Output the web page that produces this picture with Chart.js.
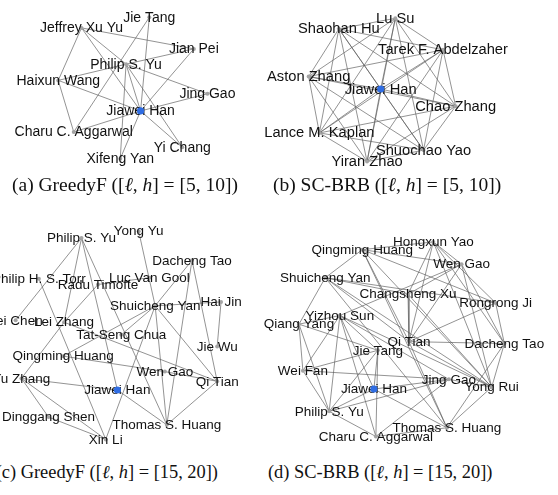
<!DOCTYPE html>
<html>
<head>
<meta charset="utf-8">
<script src="https://cdn.jsdelivr.net/npm/chart.js@4.4.1/dist/chart.umd.min.js"></script>
<style>
  html, body { margin: 0; padding: 0; background: #fff; }
  body { width: 558px; height: 495px; position: relative; overflow: hidden; }
  canvas { position: absolute; }
  .cap {
    position: absolute; white-space: nowrap; line-height: 20px;
    font-family: "Liberation Serif", "Times New Roman", serif; font-size: 19.5px; color: #111;
  }
  .cap.low { font-size: 18.4px; }
</style>
</head>
<body>
<canvas id="ga" width="255" height="178" style="left:0;top:0"></canvas>
<canvas id="gb" width="303" height="178" style="left:255px;top:0"></canvas>
<canvas id="gc" width="258" height="250" style="left:0;top:205px"></canvas>
<canvas id="gd" width="300" height="250" style="left:258px;top:205px"></canvas>

<div class="cap" style="left:12px;top:175px">(a) GreedyF ([<i>ℓ</i>, <i>h</i>] = [5, 10])</div>
<div class="cap" style="left:273px;top:175px">(b) SC-BRB ([<i>ℓ</i>, <i>h</i>] = [5, 10])</div>
<div class="cap low" style="right:340px;top:462px">(c) GreedyF ([<i>ℓ</i>, <i>h</i>] = [15, 20])</div>
<div class="cap low" style="left:268px;top:462px">(d) SC-BRB ([<i>ℓ</i>, <i>h</i>] = [15, 20])</div>

<script>
// ---- (a) GreedyF, [l,h] = [5,10] ----
const namesA = ["Jie Tang", "Jeffrey Xu Yu", "Jian Pei", "Philip S. Yu", "Haixun Wang",
  "Jing Gao", "Jiawei Han", "Charu C. Aggarwal", "Yi Chang", "Xifeng Yan"];
const xA = [150, 80, 196, 126, 56, 210, 141, 72, 184, 120];
const yA = [14, 25, 47, 63, 80, 94, 112, 134, 150, 162];
const edgesA = [[1, 2], [1, 4], [1, 3], [1, 6], [0, 7], [0, 6], [3, 2], [3, 4], [3, 5], [3, 6],
  [3, 8], [3, 9], [4, 7], [4, 6], [6, 5], [6, 7], [6, 8], [6, 2], [6, 9]];

// ---- (b) SC-BRB, [l,h] = [5,10] ----
const namesB = ["Lu Su", "Shaohan Hu", "Tarek F. Abdelzaher", "Aston Zhang", "Jiawei Han",
  "Chao Zhang", "Lance M. Kaplan", "Shuochao Yao", "Yiran Zhao"];
const xB = [395, 337, 444, 306, 380, 457, 317, 424, 366];
const yB = [15, 26, 48, 76, 89, 107, 135, 153, 165];
const edgesB = [[0, 1], [0, 2], [0, 3], [0, 4], [0, 5], [0, 6], [0, 7], [0, 8],
  [1, 2], [1, 3], [1, 4], [1, 5], [1, 6], [1, 7], [1, 8],
  [2, 3], [2, 4], [2, 5], [2, 6], [2, 7], [2, 8],
  [3, 4], [3, 5], [3, 6], [3, 7], [3, 8],
  [4, 5], [4, 6], [4, 7], [4, 8],
  [5, 6], [5, 7], [5, 8],
  [6, 7], [6, 8],
  [7, 8]];

// ---- (c) GreedyF, [l,h] = [15,20] ----
const namesC = ["Philip S. Yu", "Yong Yu", "Dacheng Tao", "Philip H. S. Torr", "Luc Van Gool",
  "Radu Timofte", "Shuicheng Yan", "Hai Jin", "Lei Chen", "Lei Zhang", "Tat-Seng Chua",
  "Jie Wu", "Qingming Huang", "Wen Gao", "Qi Tian", "Yu Zhang", "Jiawei Han",
  "Dinggang Shen", "Thomas S. Huang", "Xin Li"];
const xC = [80, 139, 194, 36, 150, 97, 156, 224, 12, 62, 121, 220, 61, 166, 220, 18, 117, 46, 168, 105];
const yC = [235, 228, 258, 277, 276, 283, 305, 301, 320, 322, 335, 347, 357, 373, 383, 380, 392, 420, 428, 443];
const edgesC = [[0, 8], [0, 9], [0, 16], [0, 18], [3, 19], [5, 4], [5, 9], [1, 6], [2, 6],
  [2, 18], [2, 14], [6, 7], [7, 11], [6, 10], [6, 12], [6, 19], [6, 14], [6, 18], [9, 14],
  [12, 13], [13, 14], [15, 16], [16, 18], [15, 17], [15, 19], [15, 9], [17, 19], [18, 14]];

// ---- (d) SC-BRB, [l,h] = [15,20] ----
const namesD = ["Hongxun Yao", "Qingming Huang", "Wen Gao", "Shuicheng Yan", "Changsheng Xu",
  "Rongrong Ji", "Yizhou Sun", "Qiang Yang", "Qi Tian", "Dacheng Tao", "Jie Tang", "Wei Fan",
  "Jing Gao", "Yong Rui", "Jiawei Han", "Philip S. Yu", "Thomas S. Huang", "Charu C. Aggarwal"];
const xD = [434, 361, 463, 323, 408, 498, 338, 296, 409, 507, 377, 300, 450, 494, 373, 327, 448, 375];
const yD = [239, 247, 262, 276, 293, 302, 315, 324, 342, 344, 351, 372, 381, 389, 391, 414, 431, 440];
const edgesD = [[0, 1], [0, 2], [0, 4], [0, 8], [0, 5], [0, 13], [0, 9],
  [1, 2], [1, 3], [1, 8], [1, 13], [1, 5], [1, 16],
  [2, 4], [2, 8], [2, 13], [2, 9], [2, 6],
  [3, 4], [3, 8], [3, 13], [3, 16], [3, 5], [3, 7],
  [4, 8], [4, 13], [5, 8], [5, 9], [8, 9], [8, 13], [8, 16], [9, 13], [9, 16], [13, 16],
  [6, 7], [6, 10], [6, 11], [6, 14], [6, 15], [6, 17], [6, 12], [6, 13],
  [7, 11], [7, 15], [7, 10], [10, 11], [10, 14], [10, 15], [10, 17],
  [11, 12], [11, 15], [12, 14], [12, 15], [12, 17], [12, 13],
  [14, 15], [15, 17], [17, 16], [14, 16]];

const FOCUS = "Jiawei Han";
const LABEL_FONT = '"Liberation Sans", Arial, sans-serif';

// Writes every author name centred on its node, right after the node layer is drawn.
const nodeLabels = {
  id: 'nodeLabels',
  afterDatasetDraw(chart, args) {
    const ds = chart.data.datasets[args.index];
    if (ds.role !== 'nodes') return;
    const ctx = chart.ctx;
    ctx.save();
    ctx.font = ds.labelSize + 'px ' + LABEL_FONT;
    ctx.fillStyle = '#111';
    ctx.textAlign = 'center';
    ctx.textBaseline = 'middle';
    args.meta.data.forEach((pt, i) => ctx.fillText(ds.names[i], pt.x, pt.y + 0.5));
    ctx.restore();
  }
};

function drawGraph(id, names, xs, ys, edges, xRange, yRange, labelSize) {
  const edgeSets = edges.map(([a, b]) => ({
    data: [{ x: xs[a], y: ys[a] }, { x: xs[b], y: ys[b] }],
    showLine: true,
    borderColor: 'rgba(95,95,95,0.85)',
    borderWidth: 0.8,
    pointRadius: 0,
    order: 3
  }));
  const nodeSet = {
    role: 'nodes',
    names: names,
    labelSize: labelSize,
    data: names.map((n, i) => ({ x: xs[i], y: ys[i] })),
    showLine: false,
    pointRadius: 2,
    pointBackgroundColor: '#a4a4a4',
    pointBorderWidth: 0,
    order: 2
  };
  const f = names.indexOf(FOCUS);
  const focusSet = {
    data: [{ x: xs[f], y: ys[f] }],
    showLine: false,
    pointRadius: 3.6,
    pointBackgroundColor: '#2f6de3',
    pointBorderWidth: 0,
    order: 1
  };
  new Chart(document.getElementById(id), {
    type: 'scatter',
    data: { datasets: [...edgeSets, nodeSet, focusSet] },
    options: {
      responsive: false,
      animation: false,
      events: [],
      layout: { padding: 0 },
      plugins: { legend: { display: false }, tooltip: { enabled: false } },
      scales: {
        x: { type: 'linear', min: xRange[0], max: xRange[1], display: false },
        y: { type: 'linear', min: yRange[0], max: yRange[1], reverse: true, display: false }
      }
    },
    plugins: [nodeLabels]
  });
}

drawGraph('ga', namesA, xA, yA, edgesA, [0, 255], [0, 178], 14);
drawGraph('gb', namesB, xB, yB, edgesB, [255, 558], [0, 178], 14.7);
drawGraph('gc', namesC, xC, yC, edgesC, [0, 258], [205, 455], 13.5);
drawGraph('gd', namesD, xD, yD, edgesD, [258, 558], [205, 455], 13.5);
</script>
</body>
</html>
